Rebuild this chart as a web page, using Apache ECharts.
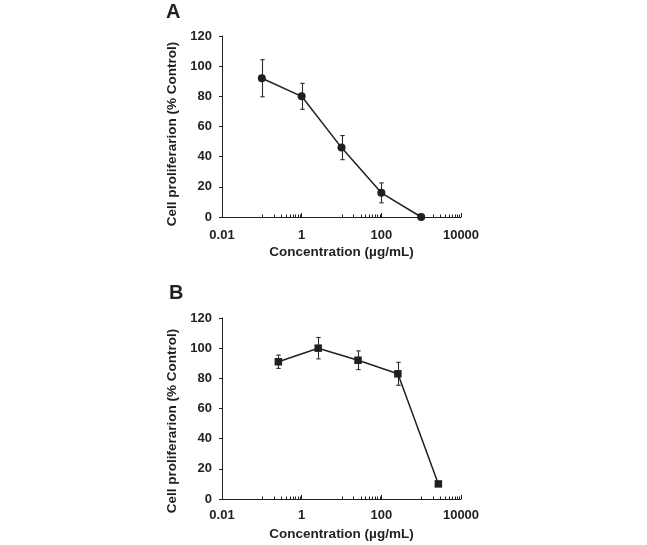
<!DOCTYPE html>
<html>
<head>
<meta charset="utf-8">
<script src="https://cdn.jsdelivr.net/npm/echarts@6/dist/echarts.min.js"></script>
<style>
html,body{margin:0;padding:0;background:#fff;}
#c{width:647px;height:545px;}
</style>
</head>
<body>
<div id="c"></div>
<script>
// ---- data ----
const concA = [0.1, 1, 10, 100, 1000];
const meanA = [92, 80, 46, 16, 0];
const errA = [12.3, 8.6, 8, 6.6, 0];

const concB = [0.26, 2.6, 26, 260, 2700];
const meanB = [91, 100, 92, 83, 10];
const errB = [4.4, 7.1, 6.2, 7.6, 0];

const xTickLabels = ['0.01', '1', '100', '10000'];
const yTicks = [0, 20, 40, 60, 80, 100, 120];
const minorTicks = [0.1, 0.2, 0.3, 0.4, 0.5, 0.6, 0.7, 0.8, 0.9,
  10, 20, 30, 40, 50, 60, 70, 80, 90,
  1000, 2000, 3000, 4000, 5000, 6000, 7000, 8000, 9000];

const xTitle = 'Concentration (µg/mL)';
const yTitle = 'Cell proliferarion (% Control)';

// ---- styles ----
const INK = '#231f20';
const FONT = 'Liberation Sans, Arial, sans-serif';

function fmtX(v) {
  const s = String(Number(Number(v).toPrecision(4)));
  const i = xTickLabels.indexOf(s);
  return i >= 0 ? xTickLabels[i] : s;
}

function xAxisDef(gi, margin) {
  return {
    type: 'log', logBase: 100, gridIndex: gi, min: 0.01, max: 10000, splitNumber: 3,
    axisLine: { lineStyle: { color: INK, width: 1 } },
    axisTick: { inside: true, length: 4, lineStyle: { color: INK } },
    splitLine: { show: false },
    axisLabel: { color: INK, fontFamily: FONT, fontWeight: 'bold', fontSize: 13, margin: margin, formatter: fmtX, showMinLabel: true, showMaxLabel: true },
    name: xTitle, nameLocation: 'middle', nameGap: 28,
    nameTextStyle: { color: INK, fontFamily: FONT, fontWeight: 'bold', fontSize: 13.5 }
  };
}
function yAxisDef(gi) {
  return {
    type: 'value', gridIndex: gi, min: yTicks[0], max: yTicks[yTicks.length - 1], interval: 20,
    axisLine: { show: true, lineStyle: { color: INK, width: 1 } },
    axisTick: { show: true, inside: false, length: 3, lineStyle: { color: INK } },
    splitLine: { show: false },
    axisLabel: { color: INK, fontFamily: FONT, fontWeight: 'bold', fontSize: 13, margin: 10 }
  };
}

function errData(x, m, e) {
  return x.map((v, i) => [v, m[i] - e[i], m[i] + e[i]]);
}
function errSeries(gi, data) {
  return {
    type: 'custom', xAxisIndex: gi, yAxisIndex: gi, silent: true, z: 1,
    data: data,
    renderItem: function (params, api) {
      const lo = api.coord([api.value(0), api.value(1)]);
      const hi = api.coord([api.value(0), api.value(2)]);
      if (Math.abs(hi[1] - lo[1]) < 1) return null;
      const x = Math.round(lo[0]) + 0.5;
      const w = 2.2;
      const st = { stroke: '#2e2a2b', lineWidth: 1.1 };
      return {
        type: 'group', children: [
          { type: 'line', shape: { x1: x, y1: lo[1], x2: x, y2: hi[1] }, style: st },
          { type: 'line', shape: { x1: x - w, y1: lo[1], x2: x + w, y2: lo[1] }, style: st },
          { type: 'line', shape: { x1: x - w, y1: hi[1], x2: x + w, y2: hi[1] }, style: st }
        ]
      };
    }
  };
}
function minorSeries(gi) {
  return {
    type: 'custom', xAxisIndex: gi, yAxisIndex: gi, silent: true, z: 3, clip: false,
    data: minorTicks.map(v => [v, 0]),
    renderItem: function (params, api) {
      const p = api.coord([api.value(0), api.value(1)]);
      const x = Math.round(p[0]) + 0.5;
      return { type: 'line', shape: { x1: x, y1: p[1], x2: x, y2: p[1] - 2.5 }, style: { stroke: INK, lineWidth: 1 } };
    }
  };
}
function lineSeries(gi, x, m, symbol) {
  return {
    type: 'line', xAxisIndex: gi, yAxisIndex: gi, z: 5,
    data: x.map((v, i) => [v, m[i]]),
    symbol: symbol, symbolSize: symbol === 'rect' ? 7.5 : 8, showSymbol: true,
    lineStyle: { color: INK, width: 1.5 },
    itemStyle: { color: INK, borderWidth: 0 },
    emphasis: { disabled: true },
    animation: false
  };
}

const chart = echarts.init(document.getElementById('c'), null, { renderer: 'canvas' });
chart.setOption({
  animation: false,
  backgroundColor: '#fff',
  grid: [
    { left: 222, top: 36, width: 239, height: 181 },
    { left: 222, top: 318, width: 239, height: 181 }
  ],
  xAxis: [xAxisDef(0, 12), xAxisDef(1, 10)],
  yAxis: [yAxisDef(0), yAxisDef(1)],
  series: [
    errSeries(0, errData(concA, meanA, errA)),
    minorSeries(0),
    lineSeries(0, concA, meanA, 'circle'),
    errSeries(1, errData(concB, meanB, errB)),
    minorSeries(1),
    lineSeries(1, concB, meanB, 'rect')
  ],
  graphic: [
    { type: 'text', left: 166, top: 2, style: { text: 'A', font: 'bold 20px ' + FONT, fill: INK } },
    { type: 'text', left: 169, top: 283, style: { text: 'B', font: 'bold 20px ' + FONT, fill: INK } },
    { type: 'text', x: 172, y: 134, rotation: Math.PI / 2, style: { text: yTitle, font: 'bold 13.5px ' + FONT, fill: INK, align: 'center', verticalAlign: 'middle' } },
    { type: 'text', x: 172, y: 421, rotation: Math.PI / 2, style: { text: yTitle, font: 'bold 13.5px ' + FONT, fill: INK, align: 'center', verticalAlign: 'middle' } }
  ]
});
</script>
</body>
</html>
